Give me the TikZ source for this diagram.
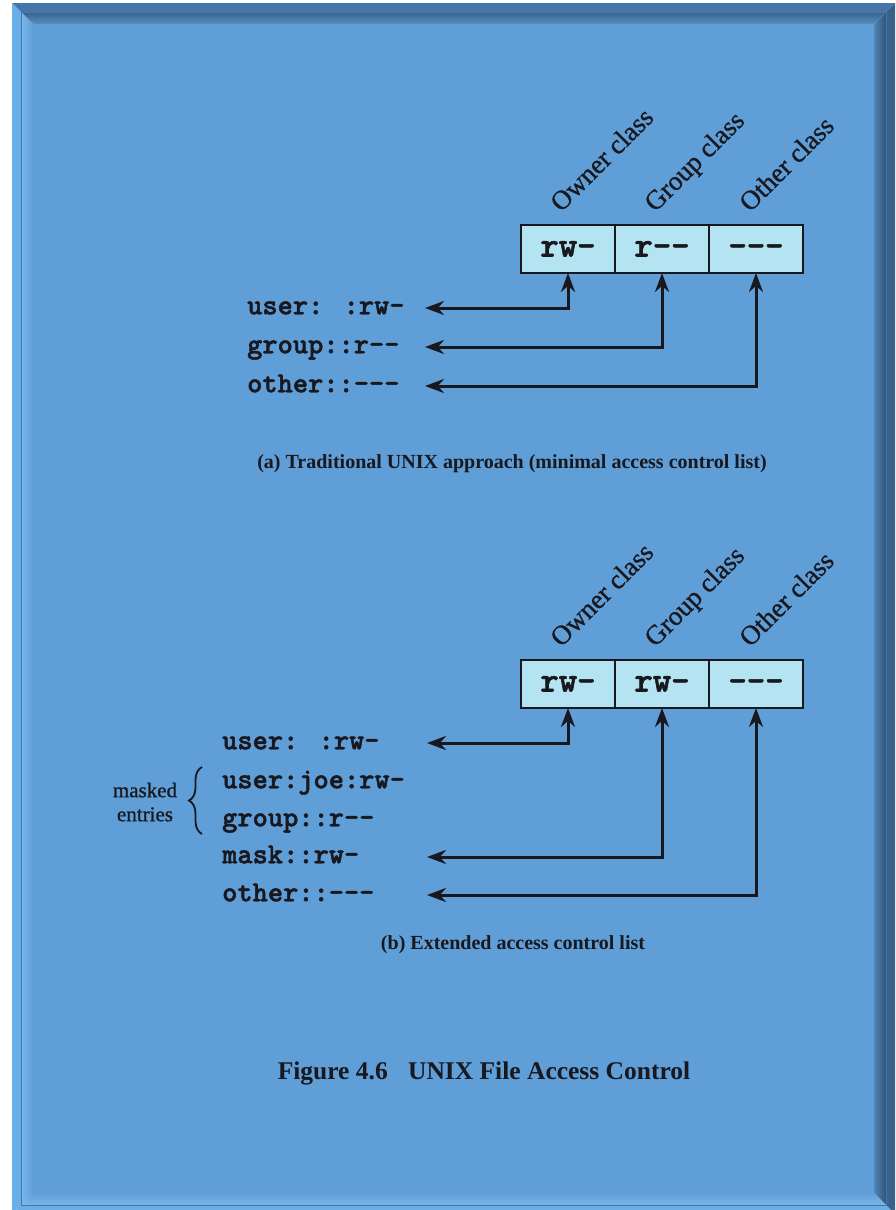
\documentclass[tikz,border=0pt]{standalone}
\usepackage{fontspec}
\setmainfont{Liberation Serif}
\newfontfamily\codefont{lmmonolt10-bold}[Extension=.otf, FakeBold=1.6]
\newfontfamily\labelfont{Liberation Serif}[FakeBold=0.9]
\usetikzlibrary{arrows.meta,decorations.pathreplacing}
\definecolor{panel}{RGB}{95,158,215}
\definecolor{cellfill}{RGB}{180,228,242}
\definecolor{ink}{RGB}{24,24,30}
\definecolor{edgedark}{RGB}{56,98,140}
\definecolor{edgemid}{RGB}{70,118,168}
\definecolor{edgelight}{RGB}{106,174,232}
\begin{document}
\begin{tikzpicture}[x=1pt,y=-1pt,
  entry/.style={font=\codefont\fontsize{29}{29}\selectfont, text=ink,
    anchor=west, inner sep=0pt, text height=12.5pt, text depth=0pt},
  cell/.style={draw=ink, line width=2.5pt, fill=cellfill, minimum width=94pt,
    minimum height=48pt, inner sep=0pt, outer sep=0pt, text height=15pt,
    text depth=0pt, font=\codefont\fontsize{35}{35}\selectfont, text=ink},
  cls/.style={font=\labelfont\fontsize{27}{27}\selectfont, text=ink, rotate=45,
    anchor=base west, inner sep=0pt},
  link/.style={draw=ink, line width=3pt,
    {Stealth[length=19pt,width=14pt]}-{Stealth[length=19pt,width=14pt]}},
  captext/.style={font=\bfseries\fontsize{20}{20}\selectfont, text=ink, inner sep=0pt},
  note/.style={font=\labelfont\fontsize{21}{24}\selectfont, text=ink, align=center, inner sep=0pt}
]
\useasboundingbox (0,0) rectangle (895,1210);
\fill[white] (0,0) rectangle (895,1210);

% bevelled frame: outer band
\fill[edgemid]   (12,3) -- (895,3) -- (886,12) -- (21,12) -- cycle;
\fill[edgedark]  (895,3) -- (895,1214) -- (886,1205) -- (886,12) -- cycle;
\fill[edgelight] (12,1214) -- (895,1214) -- (886,1205) -- (21,1205) -- cycle;
\fill[edgelight] (12,3) -- (12,1214) -- (21,1205) -- (21,12) -- cycle;
% inner band
\shade[top color=edgedark, bottom color=panel!90!black]
  (21,12) -- (886,12) -- (874,24) -- (33,24) -- cycle;
\shade[left color=panel!85!black, right color=edgedark!85!black]
  (886,12) -- (886,1205) -- (874,1193) -- (874,24) -- cycle;
\shade[top color=panel, bottom color=edgelight!90!white]
  (21,1205) -- (886,1205) -- (874,1193) -- (33,1193) -- cycle;
\shade[left color=edgelight!90!white, right color=panel]
  (21,12) -- (21,1205) -- (33,1193) -- (33,24) -- cycle;
\draw[edgemid, line width=1pt] (21,12) rectangle (886,1205);
\fill[panel] (33,24) rectangle (874,1193);

% ---------- (a) minimal ACL ----------
\node[cell] (a1) at (568,249) {rw-};
\node[cell] (a2) at (662,249) {r--};
\node[cell] (a3) at (756,249) {---};
\node[cls] (la1) at (561,213) {Owner class};
\node[cls] (la2) at (655,213) {Group class};
\node[cls] (la3) at (750,213) {Other class};

\node[entry] (ua) at (247,308) {user: :rw-};
\node[entry] (ga) at (247,347) {group::r--};
\node[entry] (oa) at (247,386) {other::---};
\coordinate (tipa) at (425,0);

\draw[link] (ua.east -| tipa) -| (a1.south);
\draw[link] (ga.east -| tipa) -| (a2.south);
\draw[link] (oa.east -| tipa) -| (a3.south);

\node[captext] (capa) at (512,464) {(a) Traditional UNIX approach (minimal access control list)};

% ---------- (b) extended ACL ----------
\node[cell] (b1) at (568,684) {rw-};
\node[cell] (b2) at (662,684) {rw-};
\node[cell] (b3) at (756,684) {---};
\node[cls] (lb1) at (561,648) {Owner class};
\node[cls] (lb2) at (655,648) {Group class};
\node[cls] (lb3) at (750,648) {Other class};

\node[entry] (ub) at (222,743) {user: :rw-};
\node[entry] (jb) at (222,782) {user:joe:rw-};
\node[entry] (gb) at (222,820) {group::r--};
\node[entry] (mb) at (222,857) {mask::rw-};
\node[entry] (ob) at (222,895) {other::---};
\coordinate (tipb) at (427,0);

\draw[link] (ub.east -| tipb) -| (b1.south);
\draw[link] (mb.east -| tipb) -| (b2.south);
\draw[link] (ob.east -| tipb) -| (b3.south);

\coordinate (brlo) at (202,834);
\coordinate (brhi) at (202,767);
\draw[ink, line width=1.8pt, decorate, decoration={brace, amplitude=13pt}] (brlo) -- (brhi);
\node[note] (masked) at (145,802) {masked\\entries};

\node[captext] (capb) at (513,945) {(b) Extended access control list};

\node[font=\bfseries\fontsize{25.5}{25.5}\selectfont, text=ink, inner sep=0pt] (fig)
  at (484,1073) {Figure 4.6\hspace{14pt} UNIX File Access Control};
\end{tikzpicture}
\end{document}
